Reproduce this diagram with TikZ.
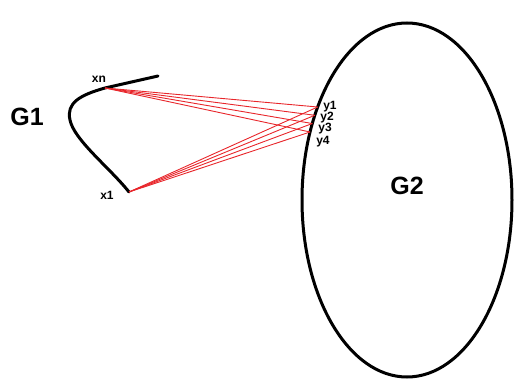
\documentclass[tikz,border=0pt]{standalone}
\usepackage{fontspec}
\setmainfont{Liberation Sans}
\usepackage{tikz}
\usetikzlibrary{calc,positioning}
\definecolor{LinkRed}{HTML}{E8262B}
\definecolor{InkCol}{HTML}{000000}
\tikzset{
  setlbl/.style={font=\fontsize{12.5}{15}\selectfont\bfseries, InkCol},
  ptlbl/.style={font=\fontsize{6}{7}\selectfont\bfseries, InkCol, inner sep=0pt},
  link/.style={LinkRed, line width=0.45pt},
  bound/.style={InkCol, line width=1.5pt, line cap=round}
}

\begin{document}
\begin{tikzpicture}[x=0.5pt, y=-0.5pt]
  \useasboundingbox (0,0) rectangle (515,380);
  \coordinate (g2c) at (407,200);
  \draw[bound] (g2c) ellipse [x radius=105, y radius=177];
  \coordinate (xn) at (105,88);
  \coordinate (xone) at (129,192);
  \draw[bound] (158,76) -- (xn) .. controls (80,95) and (66,103) .. (70,120)
    .. controls (74,140) and (110,168) .. (xone);
  \coordinate (y1) at ($(g2c)+({105*cos(211.7)},{177*sin(211.7)})$);
  \coordinate (y2) at ($(g2c)+({105*cos(208.6)},{177*sin(208.6)})$);
  \coordinate (y3) at ($(g2c)+({105*cos(205.6)},{177*sin(205.6)})$);
  \coordinate (y4) at ($(g2c)+({105*cos(202.6)},{177*sin(202.6)})$);
  \foreach \k in {1,...,4} {
    \draw[link] (xn) -- (y\k);
    \draw[link] (xone) -- (y\k);
  }
  \node[setlbl] (G1) at (27,117) {G1};
  \node[setlbl] (G2) at (407,186) {G2};
  \node[ptlbl] (lxn) at (99,79) {xn};
  \node[ptlbl] (lx1) at (107,195) {x1};
  \node[ptlbl] (ly1) at (330,107) {y1};
  \node[ptlbl] (ly2) at (327,118) {y2};
  \node[ptlbl] (ly3) at (325,129) {y3};
  \node[ptlbl] (ly4) at (323,142) {y4};
\end{tikzpicture}
\end{document}
